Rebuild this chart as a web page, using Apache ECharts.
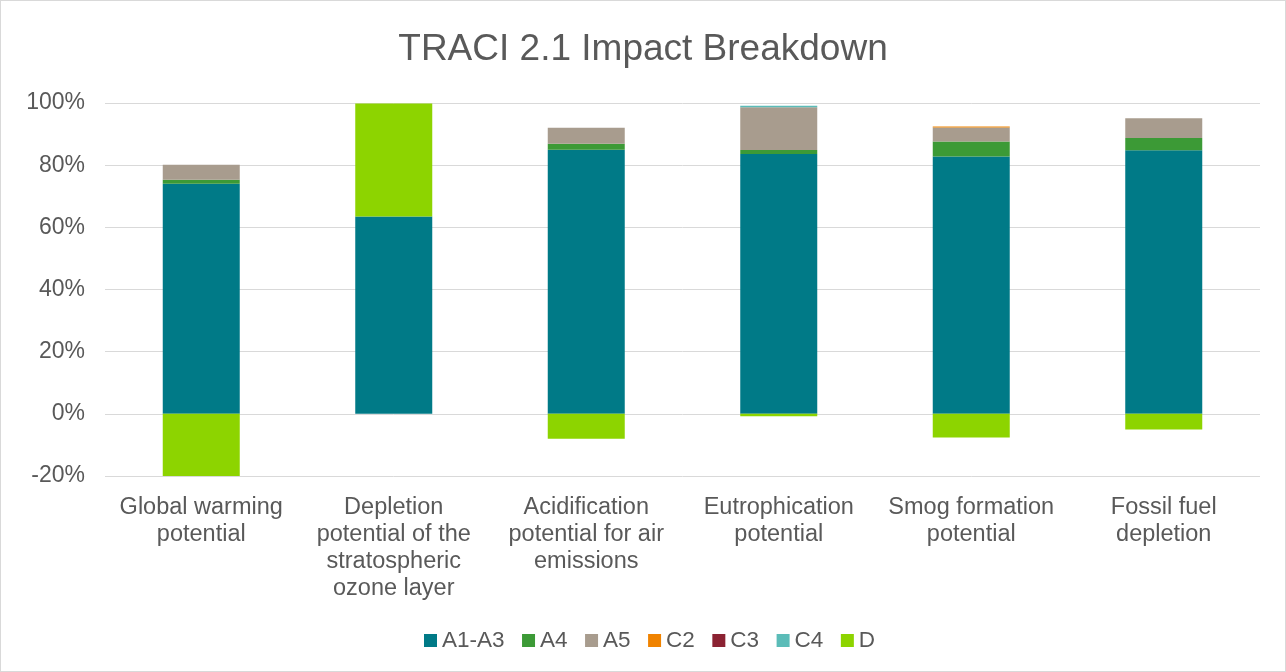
<!DOCTYPE html>
<html><head><meta charset="utf-8">
<script src="https://cdn.jsdelivr.net/npm/echarts@6/dist/echarts.min.js"></script>
<style>html,body{margin:0;padding:0;background:#fff}#c{width:1284px;height:670px;border:1px solid #D9D9D9}</style>
</head><body><div id="c"></div>
<script>
const categories = ["Global warming\npotential","Depletion\npotential of the\nstratospheric\nozone layer","Acidification\npotential for air\nemissions","Eutrophication\npotential","Smog formation\npotential","Fossil fuel\ndepletion"];
const seriesNames = ["A1-A3","A4","A5","C2","C3","C4","D"];
const A1A3 = [74.0, 63.5, 85.0, 83.6, 82.8, 84.8];
const A4 = [1.3, 0, 1.9, 1.3, 4.8, 3.9];
const A5 = [4.8, 0, 5.1, 13.7, 4.5, 6.4];
const C2 = [0, 0, 0, 0, 0.3, 0];
const C3 = [0, 0, 0, 0, 0, 0];
const C4 = [0, 0, 0, 0.5, 0, 0];
const D = [-20, 36.3, -8.0, -0.8, -7.6, -5.0];
const yTicks = {min:-20, max:100, interval:20};
const colors = ["#007A87","#3C9A36","#A89C8E","#F08300","#8B2232","#5BBCB8","#8DD400"];
const dataArr = [A1A3,A4,A5,C2,C3,C4,D];
const chart = echarts.init(document.getElementById('c'));
chart.setOption({
  animation:false,
  color: colors,
  title:{text:'TRACI 2.1 Impact Breakdown', left:'center', top:25, textStyle:{fontFamily:'Liberation Sans', fontSize:37, fontWeight:'normal', color:'#595959'}},
  legend:{bottom:14, left:418, itemWidth:13, itemHeight:13, itemGap:17.5, icon:'rect', textStyle:{fontFamily:'Liberation Sans', fontSize:22.5, color:'#595959'}, data:seriesNames},
  grid:{left:104, right:25, top:102, bottom:195, containLabel:false},
  xAxis:{type:'category', data:categories, axisLine:{show:false}, axisTick:{show:false},
    axisLabel:{interval:0, fontFamily:'Liberation Sans', fontSize:23.5, color:'#595959', lineHeight:27, margin:18}},
  yAxis:{type:'value', min:yTicks.min, max:yTicks.max, interval:yTicks.interval,
    axisLabel:{formatter:'{value}%', fontFamily:'Liberation Sans', fontSize:23, color:'#595959', margin:20}},
  series: seriesNames.map((n,i)=>({name:n, type:'bar', stack:'total', barWidth:'40%', data:dataArr[i], itemStyle:{color:colors[i]}}))
});
chart.setOption({yAxis:{splitLine:{lineStyle:{color:'#D9D9D9', width:1}}, axisLine:{show:false}, axisTick:{show:false}}});
</script></body></html>
